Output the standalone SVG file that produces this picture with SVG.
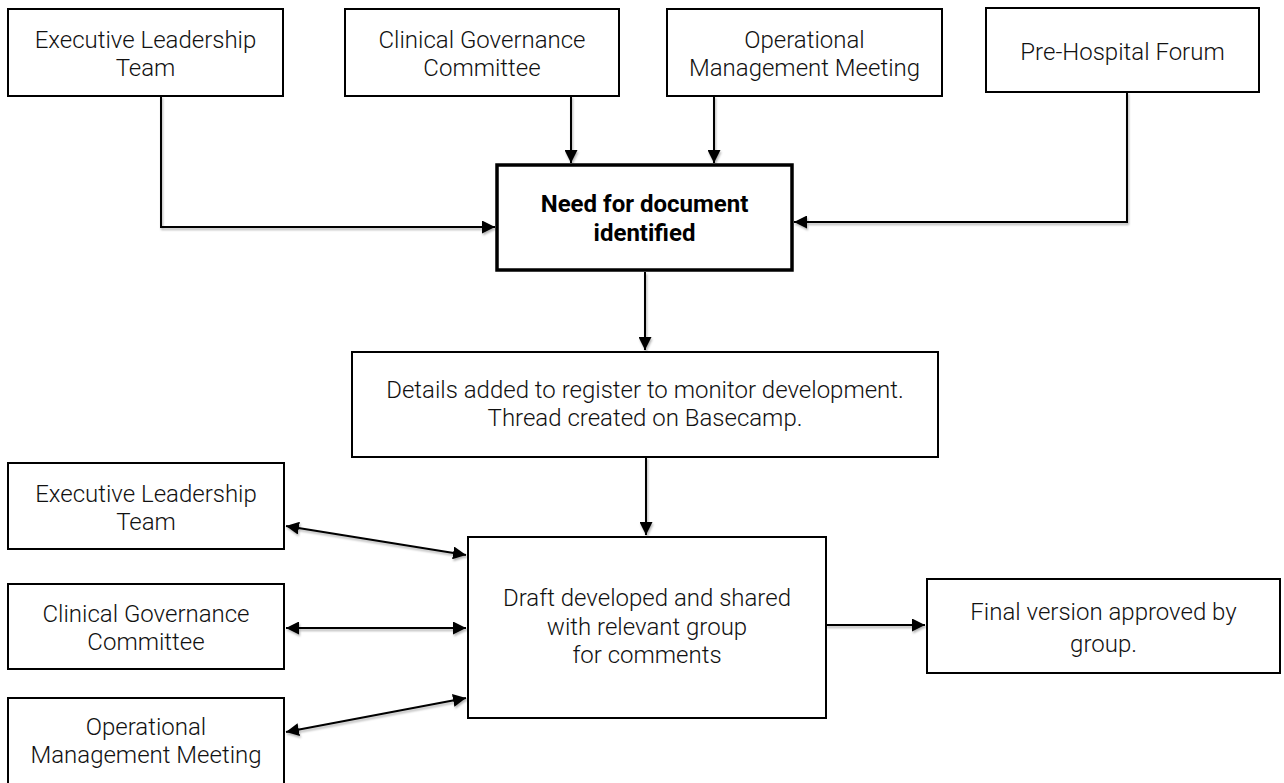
<svg xmlns="http://www.w3.org/2000/svg" width="1284" height="783" viewBox="0 0 1284 783">
<defs>
<style>
.box{fill:#fff;stroke:#000;stroke-width:2}
.bold{fill:#fff;stroke:#000;stroke-width:3.5}
.t{font-family:Roboto,"Liberation Sans",sans-serif;font-weight:300;font-size:24px;fill:#111;text-anchor:middle}
.tb{font-family:Roboto,"Liberation Sans",sans-serif;font-weight:700;font-size:24px;fill:#000;text-anchor:middle}
.ln{fill:none;stroke:#000;stroke-width:2}
</style>
<filter id="sh" x="-5%" y="-5%" width="110%" height="110%">
<feDropShadow dx="1" dy="2" stdDeviation="1.2" flood-color="#000" flood-opacity="0.3"/>
</filter>
<marker id="ah" viewBox="0 0 10 10" refX="10" refY="5" markerWidth="6.5" markerHeight="6.5" orient="auto-start-reverse" markerUnits="strokeWidth">
<path d="M0,0 L10,5 L0,10 z" fill="#000"/>
</marker>
</defs>
<rect width="1284" height="783" fill="#fff"/>
<g id="connectors" filter="url(#sh)">
<polyline class="ln" points="161,96 161,227 495,227" marker-end="url(#ah)"/>
<line class="ln" x1="571" y1="96" x2="571" y2="163" marker-end="url(#ah)"/>
<line class="ln" x1="714" y1="96" x2="714" y2="163" marker-end="url(#ah)"/>
<polyline class="ln" points="1127,92 1127,222 794,222" marker-end="url(#ah)"/>
<line class="ln" x1="645" y1="272" x2="645" y2="350" marker-end="url(#ah)"/>
<line class="ln" x1="646" y1="457" x2="646" y2="535" marker-end="url(#ah)"/>
<line class="ln" x1="286" y1="526" x2="466" y2="555" marker-start="url(#ah)" marker-end="url(#ah)"/>
<line class="ln" x1="286" y1="628" x2="466" y2="628" marker-start="url(#ah)" marker-end="url(#ah)"/>
<line class="ln" x1="286" y1="732" x2="466" y2="698" marker-start="url(#ah)" marker-end="url(#ah)"/>
<line class="ln" x1="826" y1="625" x2="925" y2="625" marker-end="url(#ah)"/>
</g>
<g id="exec-top">
<rect class="box" x="8" y="9" width="275" height="87"/>
<text class="t" x="145.5" y="48">Executive Leadership</text>
<text class="t" x="145.5" y="76">Team</text>
</g>
<g id="clinical-top">
<rect class="box" x="345" y="9" width="274" height="87"/>
<text class="t" x="482" y="48">Clinical Governance</text>
<text class="t" x="482" y="76">Committee</text>
</g>
<g id="ops-top">
<rect class="box" x="667" y="9" width="275" height="87"/>
<text class="t" x="804.5" y="48">Operational</text>
<text class="t" x="804.5" y="76">Management Meeting</text>
</g>
<g id="prehospital">
<rect class="box" x="986" y="8" width="273" height="84"/>
<text class="t" x="1122.5" y="60">Pre-Hospital Forum</text>
</g>
<g id="need">
<rect class="bold" x="497" y="165" width="295" height="105"/>
<text class="tb" x="644.5" y="212">Need for document</text>
<text class="tb" x="644.5" y="241">identified</text>
</g>
<g id="details">
<rect class="box" x="352" y="352" width="586" height="105"/>
<text class="t" x="645" y="398">Details added to register to monitor development.</text>
<text class="t" x="645" y="426">Thread created on Basecamp.</text>
</g>
<g id="draft">
<rect class="box" x="468" y="537" width="358" height="181"/>
<text class="t" x="647" y="606">Draft developed and shared</text>
<text class="t" x="647" y="635">with relevant group</text>
<text class="t" x="647" y="663">for comments</text>
</g>
<g id="final">
<rect class="box" x="927" y="579" width="353" height="94"/>
<text class="t" x="1103.5" y="620">Final version approved by</text>
<text class="t" x="1103.5" y="652">group.</text>
</g>
<g id="exec-left">
<rect class="box" x="8" y="463" width="276" height="86"/>
<text class="t" x="146" y="502">Executive Leadership</text>
<text class="t" x="146" y="530">Team</text>
</g>
<g id="clinical-left">
<rect class="box" x="8" y="584" width="276" height="85"/>
<text class="t" x="146" y="622">Clinical Governance</text>
<text class="t" x="146" y="650">Committee</text>
</g>
<g id="ops-left">
<rect class="box" x="8" y="698" width="276" height="95"/>
<text class="t" x="146" y="735">Operational</text>
<text class="t" x="146" y="763">Management Meeting</text>
</g>
</svg>
